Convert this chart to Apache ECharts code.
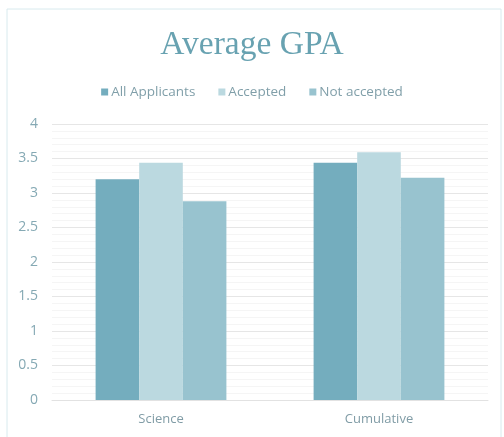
<!DOCTYPE html>
<html>
<head>
<meta charset="utf-8">
<title>Average GPA</title>
<script src="https://cdn.jsdelivr.net/npm/echarts@6/dist/echarts.min.js"></script>
<style>
  html, body { margin: 0; padding: 0; background: #fff; }
  #chart { width: 504px; height: 437px; }
</style>
</head>
<body>
<div id="chart"></div>
<script>
// categories + series
var categories = ["Science", "Cumulative"];
var seriesNames = ["All Applicants", "Accepted", "Not accepted"];
var allApplicants = [3.2, 3.44];
var accepted = [3.44, 3.59];
var notAccepted = [2.88, 3.22];

var colors = ["#74adbe", "#bbd9e0", "#98c3cf"];
var labelColor = "#85a9b4";

var chart = echarts.init(document.getElementById("chart"));

function barSeries(name, data, color) {
  return {
    name: name,
    type: "bar",
    data: data,
    barGap: "0%",
    barCategoryGap: "40%",
    itemStyle: { color: color },
    animation: false
  };
}

chart.setOption({
  title: {
    text: "Average GPA",
    left: "center",
    top: 23,
    textStyle: {
      fontFamily: "Liberation Serif",
      fontSize: 33.5,
      fontWeight: "normal",
      color: "#68a2b1"
    }
  },
  legend: {
    data: seriesNames,
    top: 80,
    left: "center",
    itemWidth: 7,
    itemHeight: 7,
    itemGap: 23,
    icon: "rect",
    textStyle: {
      fontFamily: "Open Sans",
      fontSize: 13.5,
      color: "#809fa9",
      padding: [0, 0, 0, -2]
    }
  },
  graphic: [
    {
      type: "rect",
      shape: { x: 7, y: 9, width: 494, height: 430 },
      style: { fill: "none", stroke: "#d8eaee", lineWidth: 1 },
      silent: true
    }
  ],
  grid: {
    left: 52,
    right: 16,
    top: 124,
    bottom: 37
  },
  xAxis: {
    type: "category",
    data: categories,
    axisTick: { show: false },
    axisLine: { lineStyle: { color: "#e2e2e2" } },
    axisLabel: {
      fontFamily: "Open Sans",
      fontSize: 13,
      color: "#809ca6",
      margin: 13
    }
  },
  yAxis: {
    type: "value",
    min: 0,
    max: 4,
    interval: 0.5,
    axisLine: { show: false },
    axisTick: { show: false },
    axisLabel: {
      fontFamily: "Open Sans",
      fontSize: 14,
      color: labelColor,
      margin: 14
    },
    splitLine: { lineStyle: { color: "#e6e6e6" } },
    minorTick: { show: false, splitNumber: 5 },
    minorSplitLine: { show: true, lineStyle: { color: "#f5f5f5" } }
  },
  series: [
    barSeries(seriesNames[0], allApplicants, colors[0]),
    barSeries(seriesNames[1], accepted, colors[1]),
    barSeries(seriesNames[2], notAccepted, colors[2])
  ]
});
</script>
</body>
</html>
